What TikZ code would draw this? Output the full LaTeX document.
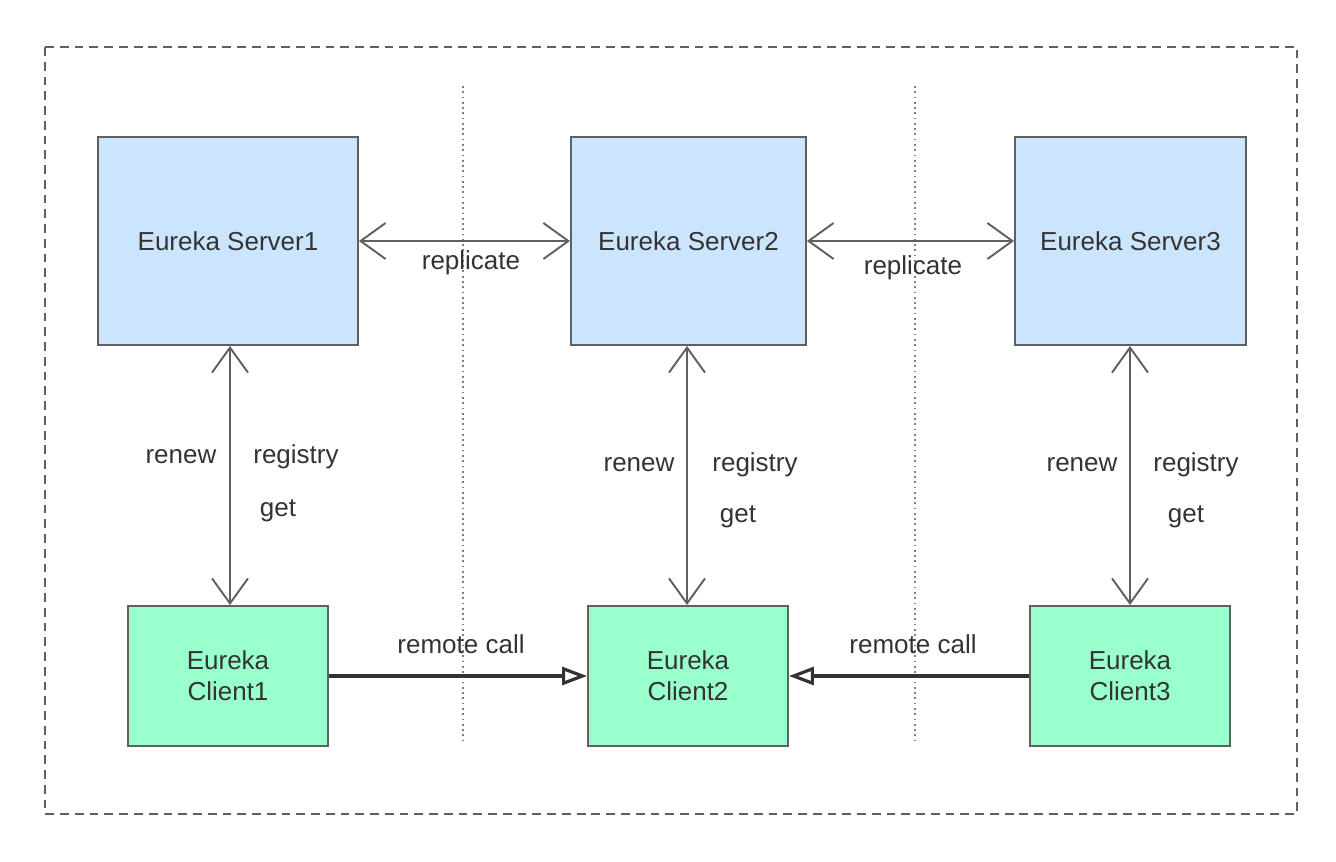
\documentclass[tikz,border=0pt]{standalone}
\usepackage{fontspec}
\setmainfont{Liberation Sans}
\usetikzlibrary{arrows.meta}
\definecolor{srvblue}{HTML}{CCE5FF}
\definecolor{cligreen}{HTML}{99FFCC}
\definecolor{edgegray}{HTML}{606060}
\definecolor{txtgray}{HTML}{333333}
\begin{document}
\begin{tikzpicture}[x=0.02cm,y=-0.02cm,font=\fontsize{14.8}{17.5}\selectfont,text=txtgray,
	server/.style={draw=edgegray,line width=1.1pt,fill=srvblue,minimum height=4.16cm,inner sep=0pt},
	client/.style={draw=edgegray,line width=1.1pt,fill=cligreen,minimum width=4cm,minimum height=2.8cm,align=center,inner sep=0pt},
	link/.style={edgegray,line width=1.1pt,{Straight Barb[length=0.5cm,width=0.72cm]}-{Straight Barb[length=0.5cm,width=0.72cm]}},
	call/.style={draw=txtgray,line width=1.8pt,-{Triangle[open,length=0.5cm,width=0.36cm]}},
	sep/.style={gray,line width=1pt,dotted}]
	\useasboundingbox (0,0) rectangle (1336,862);
	\draw[edgegray,line width=1.1pt,dash pattern=on 5pt off 3.4pt] (45,47) rectangle (1297,814);
	\draw[sep] (463,86)--(463,740);
	\draw[sep] (915,86)--(915,740);
	% servers
	\node[server,minimum width=5.2cm] (s1) at (228,241) {Eureka Server1};
	\node[server,minimum width=4.7cm] (s2) at (688.5,241) {Eureka Server2};
	\node[server,minimum width=4.62cm] (s3) at (1130.5,241) {Eureka Server3};
	% clients
	\node[client] (c1) at (228,676) {Eureka\\Client1};
	\node[client] (c2) at (688,676) {Eureka\\Client2};
	\node[client] (c3) at (1130,676) {Eureka\\Client3};
	\draw[link] (s1.east)--(s2.west);
	\draw[link] (s2.east)--(s3.west);
	\node at (471,263) {replicate};
	\node at (913,268) {replicate};
	\draw[link] (s1.south-|230,0)--(c1.north-|230,0);
	\draw[link] (s2.south-|687,0)--(c2.north-|687,0);
	\draw[link] (s3.south-|1130,0)--(c3.north);
	\node at (181,457) {renew};
	\node at (296,457) {registry};
	\node at (278,511) {get};
	\node at (639,465) {renew};
	\node at (755,465) {registry};
	\node at (738,517) {get};
	\node at (1082,465) {renew};
	\node at (1196,465) {registry};
	\node at (1186,517) {get};
	\draw[call] (c1.east)--(c2.west);
	\draw[call] (c3.west)--(c2.east);
	\node at (461,644) {remote call};
	\node at (913,644) {remote call};
\end{tikzpicture}
\end{document}
